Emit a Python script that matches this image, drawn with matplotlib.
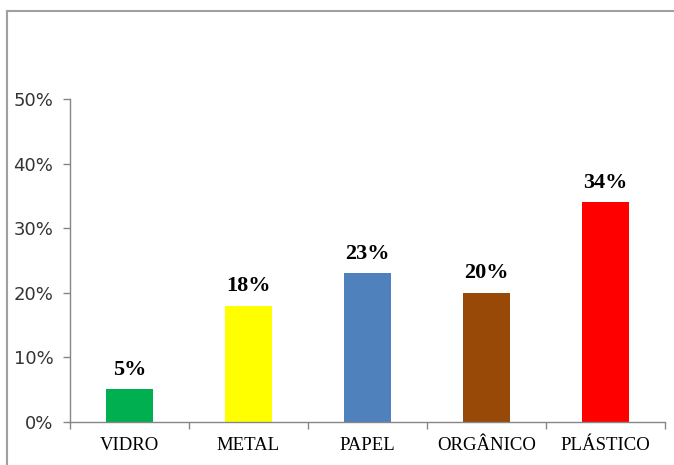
import matplotlib
matplotlib.use("Agg")
import matplotlib.pyplot as plt
from matplotlib.lines import Line2D
from matplotlib.ticker import FixedLocator

categories = ["VIDRO", "METAL", "PAPEL", "ORGÂNICO", "PLÁSTICO"]
values = [5, 18, 23, 20, 34]
colors = ["#00B050", "#FFFF00", "#4F81BD", "#984807", "#FF0000"]
y_ticks = [0, 10, 20, 30, 40, 50]
y_tick_labels = ["0%", "10%", "20%", "30%", "40%", "50%"]

W, H = 674, 465
fig = plt.figure(figsize=(W / 100, H / 100), dpi=100)
ax = fig.add_axes([70 / W, (H - 421.7) / H, (665 - 70) / W, (421.7 - 99.3) / H])

x = list(range(len(categories)))
ax.bar(x, [v / 100 for v in values], width=0.4, color=colors, zorder=2)

for xi, v in zip(x, values):
    ax.annotate(f"{v}%", (xi, v / 100), xytext=(0, 7), textcoords="offset points",
                ha="center", va="bottom", fontsize=16, fontweight="bold",
                family="Liberation Serif")

ax.set_xlim(-0.5, len(categories) - 0.5)
ax.set_ylim(0, 0.5)
ax.set_yticks([t / 100 for t in y_ticks])
ax.set_yticklabels(y_tick_labels, fontsize=13, family="DejaVu Sans", color="#333333")
ax.set_xticks(x)
ax.set_xticklabels(categories, fontsize=13.5, family="Liberation Serif")
ax.xaxis.set_minor_locator(FixedLocator([i - 0.5 for i in range(len(categories) + 1)]))
ax.tick_params(axis="x", which="major", length=0, pad=11)
ax.tick_params(axis="x", which="minor", length=5, color="#868686", width=1)
ax.tick_params(axis="y", length=5, color="#868686", width=1, pad=7)

for s in ["top", "right"]:
    ax.spines[s].set_visible(False)
for s in ["left", "bottom"]:
    ax.spines[s].set_color("#868686")
    ax.spines[s].set_linewidth(1)

# outer chart border (top and left visible)
fig.add_artist(Line2D([7 / W, 7 / W], [0, (H - 11) / H], color="#A0A0A0", lw=1.5, transform=fig.transFigure))
fig.add_artist(Line2D([7 / W, 1], [(H - 11) / H, (H - 11) / H], color="#A0A0A0", lw=1.5, transform=fig.transFigure))

fig.savefig("out.png", dpi=100)
